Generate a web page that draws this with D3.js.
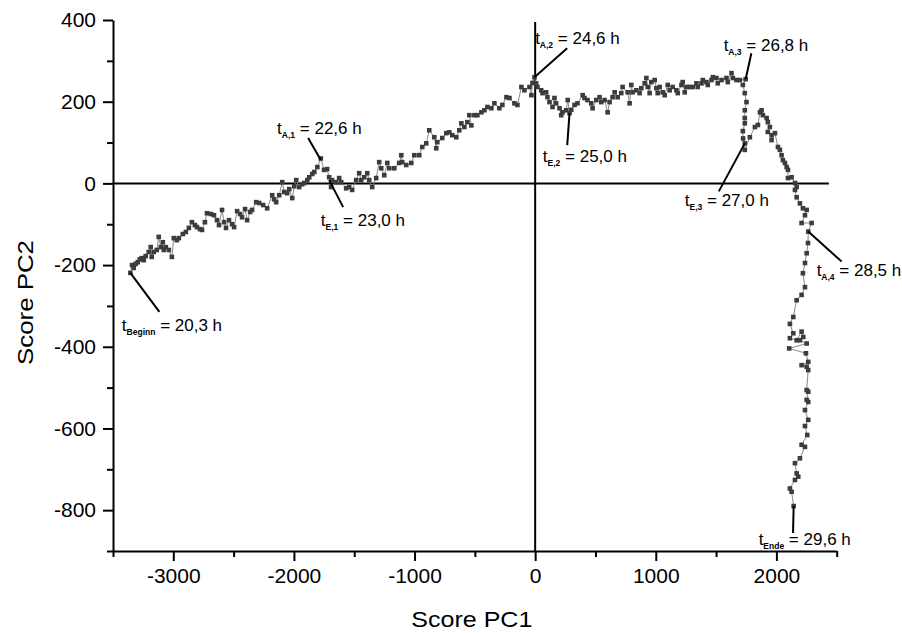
<!DOCTYPE html>
<html>
<head>
<meta charset="utf-8">
<script src="https://cdn.jsdelivr.net/npm/d3@7"></script>
<style>
  html, body { margin: 0; padding: 0; background: #fff; }
  svg { display: block; font-family: "Liberation Sans", Arial, sans-serif; }
</style>
</head>
<body>
<svg id="chart" width="902" height="633"></svg>
<script>
// ---------------- DATA ----------------
const pc1 = [
-3356,-3342,-3328,-3312,-3295,-3278,-3262,-3245,-3229,-3204,-3187,-3179,-3162,-3137,-3121,-3104,-3087,-3079,-3062,-3037,
-3012,-2996,-2971,-2954,-2921,-2896,-2871,-2846,-2821,-2804,-2779,-2762,-2738,-2721,-2688,-2663,-2638,-2621,-2596,-2579,
-2563,-2538,-2513,-2496,-2471,-2446,-2430,-2405,-2388,-2363,-2347,-2313,-2288,-2255,-2222,-2180,-2164,-2147,-2122,-2097,
-2081,-2056,-2039,-2014,-1997,-1981,-1956,-1931,-1914,-1889,-1873,-1848,-1831,-1806,-1777,-1750,-1725,-1708,-1692,-1684,
-1650,-1625,-1608,-1567,-1542,-1517,-1484,-1459,-1442,-1417,-1392,-1376,-1351,-1318,-1293,-1276,-1251,-1226,-1210,-1168,
-1127,-1110,-1102,-1069,-1027,-1002,-961,-936,-903,-878,-836,-820,-811,-770,-737,-712,-687,-654,-629,-612,
-587,-562,-529,-546,-504,-479,-446,-421,-396,-363,-338,-297,-272,-238,-213,-172,-147,-114,-89,-47,
-31,-22,-6,8,19,50,61,91,102,119,144,160,174,202,216,227,257,270,285,299,
326,351,394,409,434,465,476,507,534,548,576,601,617,642,659,684,714,725,767,783,
797,808,839,866,880,908,922,933,949,963,991,1005,1016,1032,1057,1074,1099,1115,1140,1171,
1182,1213,1223,1240,1254,1282,1307,1337,1348,1379,1390,1420,1431,1462,1473,1503,1514,1545,1586,1597,
1628,1639,1669,1697,1745,1722,1738,1752,1738,1738,1738,1722,1724,1738,1738,1780,1822,1847,1864,1877,
1888,1919,1929,1946,1929,1960,1960,1988,2013,2029,2043,2054,2071,2085,2096,2096,2126,2154,2168,2154,
2168,2195,2220,2251,2237,2209,2292,2264,2262,2251,2237,2220,2237,2209,2168,2140,2112,2140,2112,2168,
2209,2223,2195,2251,2106,2245,2264,2209,2251,2264,2251,2264,2251,2264,2237,2264,2237,2256,2209,2237,
2195,2154,2168,2181,2154,2112,2126,2143
];
const pc2 = [
-219,-200,-207,-197,-193,-186,-183,-188,-178,-168,-156,-180,-168,-163,-131,-156,-144,-163,-156,-163,
-180,-134,-139,-134,-124,-119,-109,-95,-102,-107,-112,-114,-95,-73,-75,-78,-90,-102,-65,-95,
-109,-90,-100,-107,-68,-75,-83,-63,-90,-70,-65,-46,-48,-53,-61,-29,-39,-46,-29,3,
-21,-24,-14,-36,-7,8,-9,-2,1,8,15,23,28,40,61,33,35,15,-9,8,
3,13,3,-12,-9,-16,8,25,8,15,25,8,-9,13,52,37,20,50,37,37,
50,69,52,45,50,69,69,89,98,130,113,86,101,111,123,125,118,113,130,147,
138,150,142,167,167,167,174,179,187,184,196,184,192,211,209,196,192,236,228,236,
216,246,260,245,236,228,221,223,211,199,187,209,196,184,167,174,179,204,172,180,
192,196,216,209,204,196,184,204,211,199,204,174,199,211,223,211,221,236,223,196,
241,223,228,221,233,245,258,236,221,248,253,233,221,236,223,216,241,228,236,228,
221,241,248,223,236,236,236,245,236,245,253,248,241,253,260,258,245,253,258,248,
270,258,253,253,255,241,221,199,179,160,147,128,110,98,82,113,138,143,174,179,
167,160,150,138,126,118,106,123,89,82,69,57,50,40,33,13,15,1,-9,-16,
-34,-49,-61,-65,-78,-97,-97,-118,-146,-171,-195,-220,-254,-273,-286,-327,-344,-367,-379,-384,
-363,-376,-384,-392,-404,-416,-437,-445,-449,-457,-506,-510,-530,-535,-555,-579,-594,-616,-640,-645,
-673,-685,-710,-718,-726,-747,-755,-790
];

const xMajorTicks = [-3000, -2000, -1000, 0, 1000, 2000];
const xMinorTicks = [-3500, -2500, -1500, -500, 500, 1500, 2500];
const yMajorTicks = [-800, -600, -400, -200, 0, 200, 400];
const yMinorTicks = [-900, -700, -500, -300, -100, 100, 300];

// annotation anchors (data space) and texts
const annSub   = ["Beginn", "A,1", "E,1", "A,2", "E,2", "A,3", "E,3", "A,4", "Ende"];
const annValue = ["20,3 h", "22,6 h", "23,0 h", "24,6 h", "25,0 h", "26,8 h", "27,0 h", "28,5 h", "29,6 h"];
const annPC1   = [-3356, -1777, -1708, -6, 285, 1745, 1738, 2264, 2143];
const annPC2   = [-219, 57, 8, 260, 172, 255, 98, -118, -790];

// ---------------- LAYOUT ----------------
const annLayout = [ // leader line end (dx,dy) and text start (tx,ty) relative to anchor, px
  {dx: 29,   dy: 39,  tx: -8.5, ty: 58},
  {dx: -12.7,dy: -22, tx: -43.7,ty: -26},
  {dx: 14,   dy: 27,  tx: -8.3, ty: 46},
  {dx: 32.7, dy: -29, tx: 0.7,  ty: -33},
  {dx: -2.3, dy: 32,  tx: -26.7,ty: 48.7},
  {dx: 5.7,  dy: -26, tx: -22,  ty: -28.5},
  {dx: -26,  dy: 48,  tx: -60,  ty: 62.5},
  {dx: 33.4, dy: 30,  tx: 8.4,  ty: 44.3},
  {dx: -0.6, dy: 27,  tx: -35,  ty: 39}
];

const svg = d3.select("#chart");
const x = d3.scaleLinear().domain([-3500, 2500]).range([113, 836.7]);
const y = d3.scaleLinear().domain([-900, 400]).range([551, 20]);

const points = pc1.map((v, i) => [v, pc2[i]]);

// zero lines
svg.append("line")
  .attr("x1", x(-3500)).attr("x2", x(2435))
  .attr("y1", y(0)).attr("y2", y(0))
  .attr("stroke", "#000").attr("stroke-width", 2);
svg.append("line")
  .attr("x1", x(0)).attr("x2", x(0))
  .attr("y1", y(395)).attr("y2", y(-900))
  .attr("stroke", "#000").attr("stroke-width", 2);

// connecting line
svg.append("path")
  .datum(points)
  .attr("fill", "none")
  .attr("stroke", "#8a8a8a")
  .attr("stroke-width", 1)
  .attr("d", d3.line().x(d => x(d[0])).y(d => y(d[1])));

// markers
svg.append("g").selectAll("rect")
  .data(points)
  .join("rect")
  .attr("x", d => x(d[0]) - 2.3)
  .attr("y", d => y(d[1]) - 2.3)
  .attr("width", 4.6).attr("height", 4.6)
  .attr("fill", "#3c3c3c");

// axes
const fontTick = 21;
const xAxisG = svg.append("g").attr("transform", `translate(0,${y(-900)})`);
xAxisG.call(d3.axisBottom(x).tickValues(xMajorTicks).tickSize(10).tickSizeOuter(0).tickPadding(7).tickFormat(d3.format("d")));
const xMinorG = svg.append("g").attr("transform", `translate(0,${y(-900)})`);
xMinorG.call(d3.axisBottom(x).tickValues(xMinorTicks).tickSize(6).tickSizeOuter(0).tickFormat(""));
xMinorG.select(".domain").remove();

const yAxisG = svg.append("g").attr("transform", `translate(${x(-3500)},0)`);
yAxisG.call(d3.axisLeft(y).tickValues(yMajorTicks).tickSize(10).tickSizeOuter(0).tickPadding(7).tickFormat(d3.format("d")));
const yMinorG = svg.append("g").attr("transform", `translate(${x(-3500)},0)`);
yMinorG.call(d3.axisLeft(y).tickValues(yMinorTicks).tickSize(6).tickSizeOuter(0).tickFormat(""));
yMinorG.select(".domain").remove();

svg.selectAll(".domain").attr("stroke", "#000").attr("stroke-width", 2);
svg.selectAll(".tick line").attr("stroke", "#000").attr("stroke-width", 2);
svg.selectAll(".tick text")
  .attr("font-family", "'Liberation Sans', Arial, sans-serif")
  .attr("font-size", fontTick)
  .attr("fill", "#000")
  .text(function(d){ return d3.select(this).text().replace("\u2212", "-"); });

// axis titles
svg.append("text")
  .attr("x", (x(-3500) + x(2500)) / 2 - 3)
  .attr("y", 627)
  .attr("text-anchor", "middle")
  .attr("font-size", 22)
  .attr("textLength", 121)
  .attr("lengthAdjust", "spacingAndGlyphs")
  .text("Score PC1");
svg.append("text")
  .attr("transform", `translate(33,302.5) rotate(-90)`)
  .attr("text-anchor", "middle")
  .attr("font-size", 22)
  .attr("textLength", 125)
  .attr("lengthAdjust", "spacingAndGlyphs")
  .text("Score PC2");

// annotations
annSub.forEach((sub, i) => {
  const ax = x(annPC1[i]), ay = y(annPC2[i]);
  const L = annLayout[i];
  svg.append("line")
    .attr("x1", ax).attr("y1", ay)
    .attr("x2", ax + L.dx).attr("y2", ay + L.dy)
    .attr("stroke", "#000").attr("stroke-width", 2);
  const t = svg.append("text")
    .attr("x", ax + L.tx).attr("y", ay + L.ty)
    .attr("font-size", 17).attr("fill", "#000");
  t.append("tspan").text("t");
  t.append("tspan").attr("dy", 4).attr("font-size", 8.5).attr("font-weight", "bold").text(sub);
  t.append("tspan").attr("dy", -4).text(" = " + annValue[i]);
});
</script>
</body>
</html>
